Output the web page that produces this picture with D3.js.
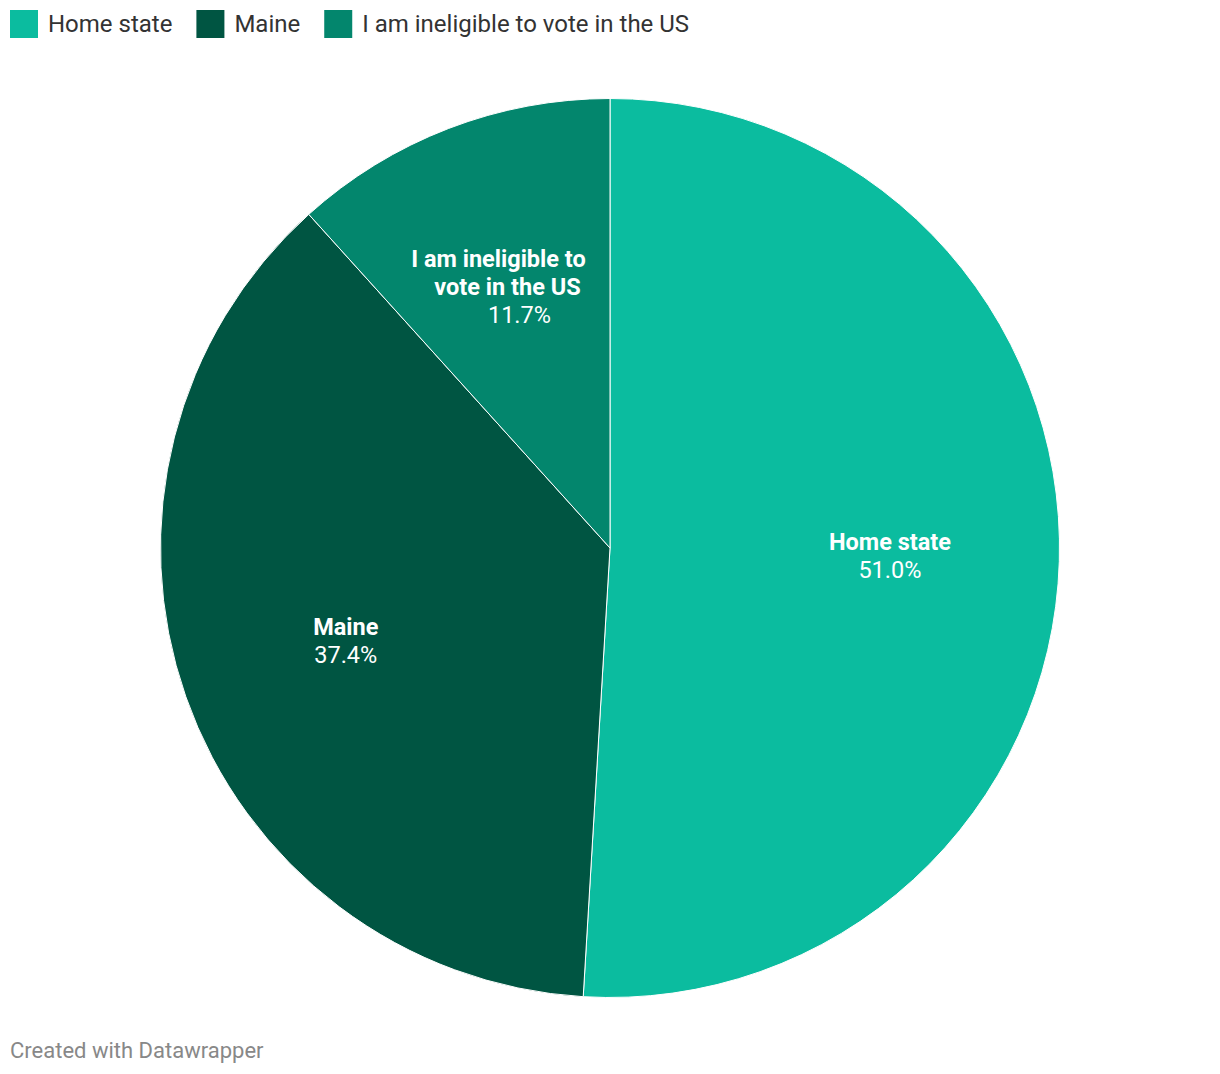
<!DOCTYPE html>
<html>
<head>
<meta charset="utf-8">
<script src="https://cdn.jsdelivr.net/npm/d3@7"></script>
<style>
  body { margin: 0; background: #fff; font-family: Roboto, "Noto Sans", sans-serif; }
</style>
</head>
<body>
<svg id="chart" width="1220" height="1074"></svg>
<script>
// data
const categories = ["Home state", "Maine", "I am ineligible to vote in the US"]
const values = [51.0, 37.4, 11.7]
const labelLines = [["Home state"], ["Maine"], ["I am ineligible to", "vote in the US"]]
const colors = ["#0bbc9f", "#005542", "#03866d"]

const svg = d3.select("#chart")
const cx = 610, cy = 548, radius = 449.5

const color = d3.scaleOrdinal().domain(categories).range(colors)

// legend
const legend = svg.append("g").attr("class", "legend")
let lx = 10
categories.forEach((c) => {
  const g = legend.append("g").attr("transform", "translate(" + lx + ",10)")
  g.append("rect").attr("width", 28).attr("height", 28).attr("fill", color(c))
  const t = g.append("text").attr("x", 38).attr("y", 22)
    .attr("font-size", 24).attr("fill", "#333").text(c)
  lx += 38 + t.node().getComputedTextLength() + 24
})

const pie = d3.pie().sort(null).value((d) => d)
const arcs = pie(values)
const arc = d3.arc().innerRadius(0).outerRadius(radius)
const labelArc = d3.arc().innerRadius(radius * 0.623).outerRadius(radius * 0.623)

const g = svg.append("g").attr("transform", "translate(" + cx + "," + cy + ")")

g.selectAll("path")
  .data(arcs)
  .enter()
  .append("path")
  .attr("d", arc)
  .attr("fill", (d, i) => color(categories[i]))
  .attr("stroke", "#fff")
  .attr("stroke-width", 1)

// slice labels
const lineH = 28
const nudges = [[0], [0], [-11, -2]]
const pctNudge = [0, 0, 10]
const labels = g.selectAll("g.lbl")
  .data(arcs)
  .enter()
  .append("g")
  .attr("class", "lbl")
  .attr("transform", (d) => "translate(" + labelArc.centroid(d) + ")")

labels.each(function (d, i) {
  const lines = labelLines[i]
  const n = lines.length + 1
  const top = -(n - 1) * lineH / 2 + 8
  const sel = d3.select(this)
  lines.forEach((ln, j) => {
    sel.append("text")
      .attr("text-anchor", "middle")
      .attr("x", nudges[i][j])
      .attr("y", top + j * lineH)
      .attr("font-size", 23.5).attr("font-weight", "bold")
      .attr("fill", "#fff").text(ln)
  })
  sel.append("text")
    .attr("text-anchor", "middle")
    .attr("x", pctNudge[i])
    .attr("y", top + lines.length * lineH)
    .attr("font-size", 23.5)
    .attr("fill", "#fff").text(d3.format(".1f")(values[i]) + "%")
})

svg.append("text").attr("x", 10).attr("y", 1058)
  .attr("font-size", 22).attr("fill", "#888")
  .text("Created with Datawrapper")
</script>
</body>
</html>
